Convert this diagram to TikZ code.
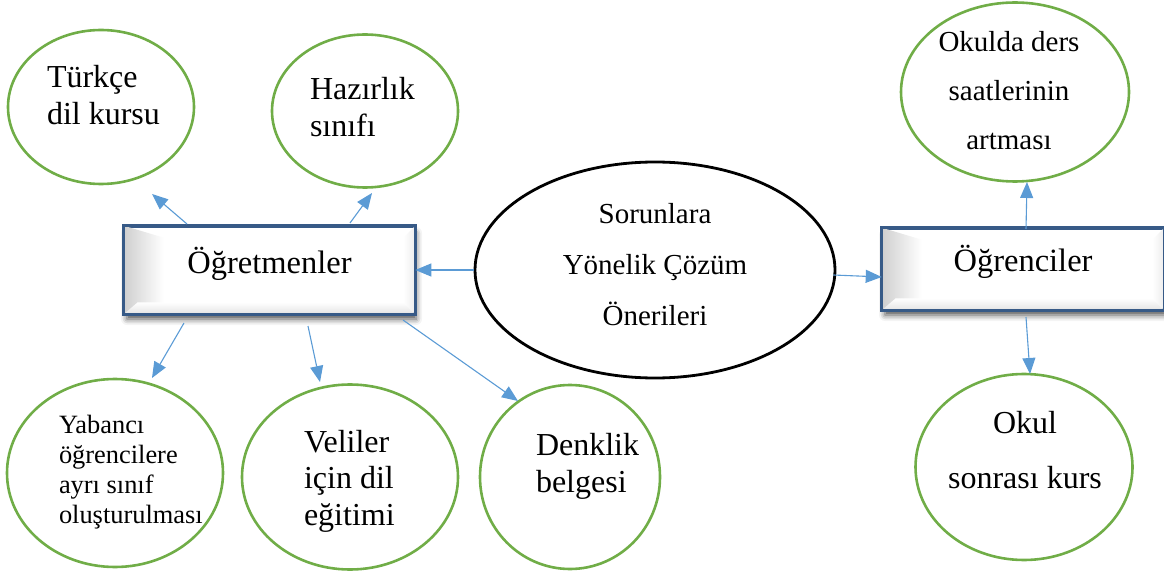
\documentclass[tikz,border=0pt]{standalone}
\usepackage{fontspec}
\setmainfont{Liberation Serif}
\usetikzlibrary{shapes.geometric,arrows.meta,shadows.blur,calc}
\definecolor{grn}{RGB}{112,173,71}
\definecolor{arrowblue}{RGB}{91,155,213}
\definecolor{boxblue}{RGB}{55,90,135}
\begin{document}
\begin{tikzpicture}[x=1pt,y=-1pt,
  oval/.style={ellipse, draw=grn, line width=2.6pt, inner sep=0pt},
  coreoval/.style={ellipse, draw=black, line width=2.8pt, inner sep=0pt},
  txt/.style={inner sep=0pt, outer sep=0pt},
  conn/.style={draw=arrowblue, line width=1.1pt, -{Triangle[length=16pt,width=13pt]}},
  bevelbox/.style={rectangle, draw=boxblue, line width=2.6pt, fill=white, inner sep=0pt,
    blur shadow={shadow xshift=2pt, shadow yshift=-6pt, shadow blur radius=6pt, shadow opacity=70}},
  boxtext/.style={inner sep=0pt, font=\fontsize{32.5}{37}\selectfont, text height=20pt, text depth=14pt}
]
\useasboundingbox (0,0) rectangle (1164,577);

% ---- ellipses ----
\node[oval, minimum width=186pt, minimum height=154pt] (turk) at (101,107) {};
\node[oval, minimum width=186pt, minimum height=153pt] (hazir) at (365,111) {};
\node[oval, minimum width=228pt, minimum height=179pt] (okulda) at (1015,92) {};
\node[coreoval, minimum width=360pt, minimum height=216pt] (core) at (655,270) {};
\node[oval, minimum width=216pt, minimum height=188pt] (yab) at (115,473) {};
\node[oval, minimum width=216pt, minimum height=185pt] (veli) at (350,477) {};
\node[oval, minimum width=180pt, minimum height=184pt] (denk) at (570,477) {};
\node[oval, minimum width=217pt, minimum height=186pt] (okul) at (1024,467) {};

% ---- ellipse texts ----
\node[txt, anchor=north west, align=left, font=\fontsize{32}{37}\selectfont] (turkT) at (47,62.1)
  {\strut Türkçe\\\strut dil kursu};
\node[txt, anchor=north west, align=left, font=\fontsize{32}{37}\selectfont] (hazirT) at (310,74.1)
  {\strut Hazırlık\\\strut sınıfı};
\node[txt, anchor=north, align=center, font=\fontsize{29}{49}\selectfont] (okuldaT) at (1009,17.7)
  {\strut Okulda ders\\\strut saatlerinin\\\strut artması};
\node[txt, anchor=north, align=center, font=\fontsize{29}{51}\selectfont] (coreT) at (655,187.3)
  {\strut Sorunlara\\\strut Yönelik Çözüm\\\strut Önerileri};
\node[txt, anchor=north west, align=left, font=\fontsize{26.4}{30}\selectfont] (yabT) at (59,412)
  {\strut Yabancı\\\strut öğrencilere\\\strut ayrı sınıf\\\strut oluşturulması};
\node[txt, anchor=north west, align=left, font=\fontsize{32}{36.5}\selectfont] (veliT) at (304,426.5)
  {\strut Veliler\\\strut için dil\\\strut eğitimi};
\node[txt, anchor=north west, align=left, font=\fontsize{32}{37}\selectfont] (denkT) at (536,429.1)
  {\strut Denklik\\\strut belgesi};
\node[txt, anchor=north, align=center, font=\fontsize{32}{55}\selectfont] (okulT) at (1025,394.5)
  {\strut Okul\\\strut sonrası kurs};

% ---- bevel boxes ----
\node[bevelbox, minimum width=289pt, minimum height=86pt] (teach) at (269.5,270) {};
\node[bevelbox, minimum width=280pt, minimum height=80pt] (stud) at (1023,269) {};
\foreach \b in {teach,stud}{
  \shade[left color=gray!38, right color=white]
    (\b.north west) -- (\b.south west) -- ($(\b.south west)+(40,-12)$) -- ($(\b.north west)+(40,12)$) -- cycle;
  \shade[top color=white, bottom color=gray!22]
    ($(\b.south west)+(14,-12)$) -- (\b.south west) -- (\b.south east) -- ($(\b.south east)+(-12,-12)$) -- cycle;
  \shade[left color=white, right color=gray!15]
    ($(\b.north east)+(-12,12)$) -- (\b.north east) -- (\b.south east) -- ($(\b.south east)+(-12,-12)$) -- cycle;
  \draw[draw=boxblue, line width=2.6pt] (\b.north west) rectangle (\b.south east);
}
\node[boxtext] (teachT) at (teach.center) {Öğretmenler};
\node[boxtext] (studT) at (stud.center) {Öğrenciler};

% ---- connector end points ----
\coordinate (t1s) at (187,224); \coordinate (t1e) at (152,194);
\coordinate (t2s) at (350,223); \coordinate (t2e) at (372,193);
\coordinate (b1s) at (184,323); \coordinate (b1e) at (152,378);
\coordinate (b2s) at (308,326); \coordinate (b2e) at (320,382);
\coordinate (b3s) at (403,320); \coordinate (b3e) at (518,401);
\coordinate (s1s) at (1026,229); \coordinate (s1e) at (1027,182);
\coordinate (s2s) at (1026,317); \coordinate (s2e) at (1030,374);

% ---- connectors ----
\draw[conn] (core.west) -- (teach.east);
\draw[conn] ($(core.east)+(-3,5)$) -- ($(stud.west)+(0,8)$);
\draw[conn] (t1s) -- (t1e);
\draw[conn] (t2s) -- (t2e);
\draw[conn] (b1s) -- (b1e);
\draw[conn] (b2s) -- (b2e);
\draw[conn] (b3s) -- (b3e);
\draw[conn] (s1s) -- (s1e);
\draw[conn] (s2s) -- (s2e);
\end{tikzpicture}
\end{document}
